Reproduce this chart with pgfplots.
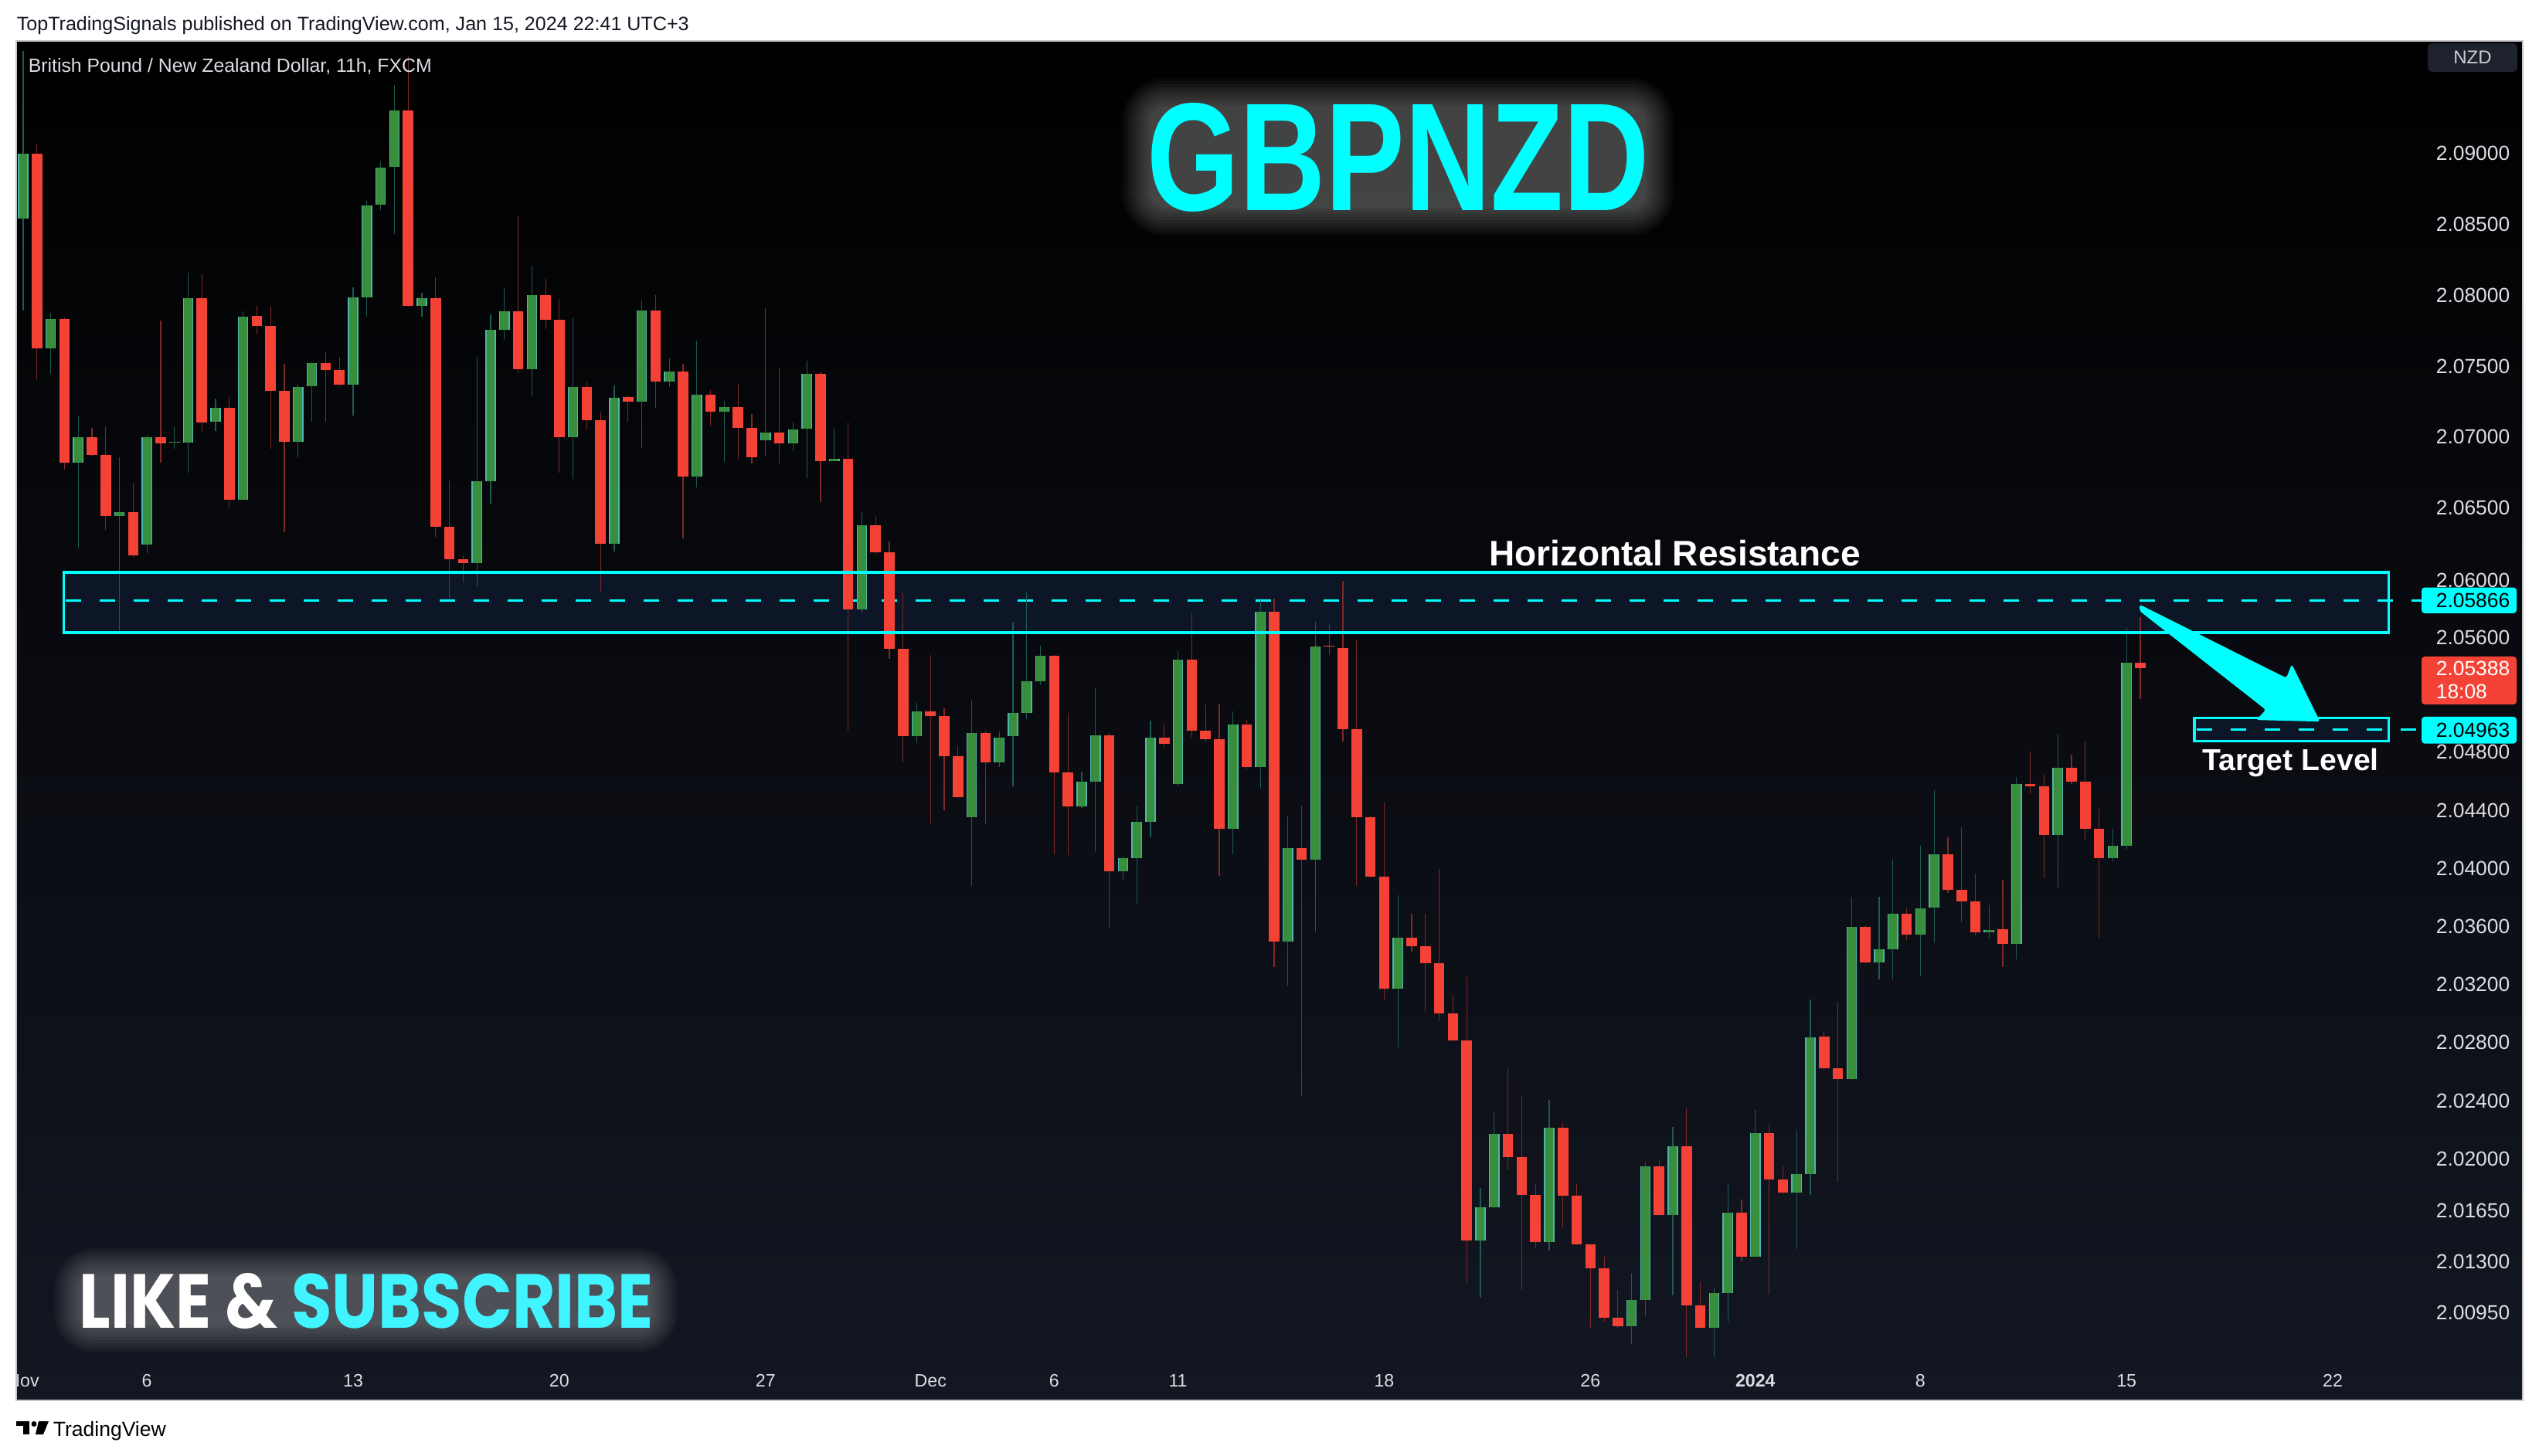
\documentclass[border=0pt]{standalone}
\usepackage{fontspec}
\setmainfont{Liberation Sans}
\newfontfamily\pop{Poppins}
\usepackage{graphicx}
\usepackage{pgfplots}
\usepackage{pgfplotstable}
\pgfplotsset{compat=1.18}

\definecolor{cy}{RGB}{0,255,255}
\definecolor{subcy}{RGB}{64,245,255}
\definecolor{bgbot}{RGB}{19,23,34}
\definecolor{boxfill}{RGB}{13,22,38}
\definecolor{gbody}{RGB}{56,142,60}
\definecolor{gborder}{RGB}{77,182,172}
\definecolor{rbody}{RGB}{244,67,54}
\definecolor{gwick}{RGB}{30,90,84}
\definecolor{rwick}{RGB}{128,40,40}
\definecolor{ticktext}{RGB}{220,222,228}
\definecolor{hdr}{RGB}{19,23,34}
\definecolor{btn}{RGB}{30,34,45}

% rising candles: index, open, high, low, close
\pgfplotstableread{
n o h l c
1 2.08540 2.09731 2.07887 2.08993
3 2.07624 2.07873 2.07446 2.07832
5 2.06818 2.07148 2.06228 2.06999
8 2.06455 2.06859 2.05642 2.06474
10 2.06250 2.07021 2.06190 2.07007
12 2.06961 2.07075 2.06913 2.06967
13 2.06964 2.08162 2.06750 2.07974
15 2.07108 2.07270 2.07043 2.07210
17 2.06561 2.07881 2.06556 2.07846
21 2.06967 2.07370 2.06859 2.07356
22 2.07359 2.07527 2.07108 2.07519
25 2.07370 2.08050 2.07153 2.07985
26 2.07987 2.08662 2.07851 2.08630
27 2.08633 2.08944 2.08602 2.08903
28 2.08906 2.09484 2.08433 2.09302
30 2.07927 2.08018 2.07851 2.07979
34 2.06120 2.07570 2.05961 2.06691
35 2.06694 2.07860 2.06539 2.07751
36 2.07754 2.08048 2.07689 2.07881
38 2.07481 2.08206 2.07289 2.07996
41 2.07007 2.07838 2.06710 2.07350
44 2.06255 2.07364 2.06201 2.07275
46 2.07248 2.07960 2.06924 2.07886
48 2.07388 2.07556 2.07349 2.07458
50 2.06726 2.07678 2.06648 2.07303
52 2.07182 2.07252 2.06827 2.07215
55 2.06981 2.07904 2.06869 2.07030
57 2.06957 2.07099 2.06908 2.07057
58 2.07060 2.07543 2.06717 2.07443
60 2.06833 2.07066 2.06830 2.06856
62 2.05797 2.06477 2.05770 2.06383
66 2.04910 2.05150 2.04864 2.05087
70 2.04352 2.05160 2.03881 2.04931
72 2.04732 2.04948 2.04699 2.04906
73 2.04910 2.05703 2.04569 2.05075
74 2.05078 2.05916 2.05033 2.05295
75 2.05298 2.05547 2.05267 2.05472
78 2.04426 2.04668 2.04420 2.04596
79 2.04596 2.05252 2.04111 2.04919
81 2.03981 2.04080 2.03919 2.04069
82 2.04072 2.04435 2.03752 2.04323
83 2.04323 2.05021 2.04216 2.04906
85 2.04581 2.05505 2.04567 2.05445
89 2.04271 2.05086 2.04100 2.04993
91 2.04699 2.05860 2.04551 2.05777
93 2.03491 2.04363 2.03194 2.04143
95 2.04061 2.05710 2.03553 2.05536
101 2.03174 2.03815 2.02764 2.03522
107 2.01440 2.01802 2.01051 2.01667
108 2.01667 2.02326 2.01662 2.02174
112 2.01433 2.02405 2.01375 2.02214
118 2.00856 2.01224 2.00740 2.01034
119 2.01034 2.01977 2.00924 2.01950
121 2.01619 2.02218 2.01068 2.02088
124 2.00852 2.01122 2.00650 2.01085
125 2.01085 2.01829 2.00883 2.01633
127 2.01334 2.02336 2.01330 2.02181
130 2.01767 2.02195 2.01382 2.01898
131 2.01898 2.03091 2.01753 2.02836
134 2.02551 2.03806 2.02545 2.03597
136 2.03351 2.03803 2.03232 2.03439
137 2.03439 2.04064 2.03232 2.03685
139 2.03545 2.04156 2.03253 2.03722
140 2.03726 2.04539 2.03487 2.04100
144 2.03560 2.03744 2.03512 2.03574
146 2.03480 2.04631 2.03370 2.04583
149 2.04235 2.04930 2.03866 2.04690
153 2.04068 2.04270 2.04046 2.04153
154 2.04153 2.05665 2.04130 2.05424
}\greendata

% falling candles: index, open, high, low, close
\pgfplotstableread{
n o h l c
2 2.08993 2.09070 2.07408 2.07624
4 2.07832 2.07840 2.06777 2.06818
6 2.06999 2.07067 2.06872 2.06880
7 2.06880 2.07078 2.06350 2.06453
9 2.06474 2.06683 2.06165 2.06174
11 2.07007 2.07819 2.06826 2.06959
14 2.07974 2.08146 2.07029 2.07102
16 2.07210 2.07289 2.06507 2.06561
18 2.07852 2.07922 2.07724 2.07784
19 2.07784 2.07916 2.06918 2.07324
20 2.07324 2.07516 2.06337 2.06967
23 2.07519 2.07602 2.07108 2.07475
24 2.07475 2.07570 2.07359 2.07367
29 2.09302 2.09687 2.07920 2.07927
31 2.07979 2.08124 2.06304 2.06377
32 2.06377 2.06696 2.05871 2.06150
33 2.06150 2.06174 2.05985 2.06120
37 2.07881 2.08556 2.07454 2.07481
39 2.07996 2.08108 2.07765 2.07824
40 2.07824 2.07971 2.06750 2.07007
42 2.07350 2.07386 2.07053 2.07121
43 2.07121 2.07183 2.05920 2.06255
45 2.07278 2.07297 2.07111 2.07248
47 2.07886 2.08003 2.07207 2.07388
49 2.07458 2.07516 2.06286 2.06726
51 2.07303 2.07333 2.07084 2.07180
53 2.07215 2.07378 2.06856 2.07063
54 2.07063 2.07164 2.06814 2.06860
56 2.07030 2.07494 2.06814 2.06957
59 2.07443 2.07455 2.06550 2.06833
61 2.06856 2.07105 2.04958 2.05797
63 2.06383 2.06456 2.06177 2.06192
64 2.06192 2.06271 2.05454 2.05520
65 2.05520 2.05916 2.04732 2.04910
67 2.05087 2.05482 2.04311 2.05054
68 2.05054 2.05105 2.04401 2.04774
69 2.04774 2.04845 2.04483 2.04491
71 2.04931 2.04955 2.04308 2.04732
76 2.05472 2.05480 2.04096 2.04666
77 2.04666 2.05078 2.04089 2.04426
80 2.04919 2.04940 2.03590 2.03978
84 2.04906 2.05003 2.04838 2.04858
86 2.05445 2.05772 2.04903 2.04951
87 2.04951 2.05133 2.04873 2.04897
88 2.04897 2.05133 2.03949 2.04273
90 2.04993 2.05027 2.04685 2.04699
92 2.05777 2.05875 2.03315 2.03491
94 2.04143 2.04434 2.02429 2.04061
96 2.05543 2.05693 2.05480 2.05536
97 2.05527 2.06000 2.04880 2.04966
98 2.04966 2.05585 2.03880 2.04352
99 2.04352 2.04368 2.03930 2.03940
100 2.03940 2.04452 2.03094 2.03174
102 2.03522 2.03685 2.03422 2.03460
103 2.03460 2.03685 2.03013 2.03346
104 2.03346 2.03995 2.02948 2.03000
105 2.03000 2.03132 2.02805 2.02812
106 2.02812 2.03253 2.01150 2.01440
109 2.02174 2.02620 2.01922 2.02012
110 2.02012 2.02436 2.01106 2.01757
111 2.01757 2.01829 2.01389 2.01433
113 2.02214 2.02245 2.01529 2.01746
114 2.01746 2.01829 2.01410 2.01416
115 2.01416 2.01420 2.00846 2.01256
116 2.01256 2.01338 2.00890 2.00914
117 2.00914 2.01109 2.00850 2.00856
120 2.01950 2.01998 2.01612 2.01619
122 2.02088 2.02343 2.00650 2.01003
123 2.01003 2.01153 2.00848 2.00852
126 2.01633 2.01722 2.01297 2.01334
128 2.02181 2.02235 2.01076 2.01857
129 2.01857 2.01957 2.01762 2.01767
132 2.02841 2.02877 2.02612 2.02618
133 2.02618 2.03078 2.01845 2.02551
135 2.03597 2.03605 2.03345 2.03351
138 2.03685 2.03722 2.03505 2.03545
141 2.04100 2.04211 2.03829 2.03851
142 2.03851 2.04281 2.03622 2.03774
143 2.03774 2.03969 2.03534 2.03560
145 2.03578 2.03922 2.03322 2.03480
147 2.04583 2.04808 2.04510 2.04565
148 2.04565 2.04646 2.03929 2.04235
150 2.04690 2.04789 2.04580 2.04601
151 2.04601 2.04882 2.04192 2.04269
152 2.04269 2.04412 2.03523 2.04068
155 2.05424 2.05748 2.05173 2.05388
}\reddata

\newcommand\gbptext{\resizebox{162.5pt}{34.75pt}{\bfseries GBPNZD}}
\newcommand\likesub[2]{\resizebox{185.75pt}{17.75pt}{\pop\bfseries\textcolor{#1}{LIKE \&} \textcolor{#2}{SUBSCRIBE}}}

\begin{document}
\begin{tikzpicture}
\useasboundingbox (0,0) rectangle (821.5pt,471pt);
\fill[white] (0,0) rectangle (821.5pt,471pt);
\begin{scope}[x=0.25pt,y=-0.25pt,shift={(0pt,471pt)}]
  \shade[top color=black, bottom color=bgbot] (21,53) rectangle (3265,1813);
  \fill[boxfill] (82.5,741) rectangle (3091.5,819);
  \fill[boxfill] (2840,929.4) rectangle (3091.5,959.7);
  \draw[cy, line width=0.75pt, dash pattern=on 5pt off 6pt] (85,777.6) -- (3134,777.6);
  \draw[cy, line width=0.75pt, dash pattern=on 5pt off 6pt] (2843,945) -- (3134,945);
  % soft glows behind the two banner texts
  \foreach \m in {-4,0,4,8,12,16,20,24,28,32}{
    \fill[white, opacity=0.033, rounded corners=6pt+\m*0.25pt] (1484-\m,133-\m) rectangle (2134+\m,273+\m);
    \fill[white, opacity=0.03, rounded corners=5pt+\m*0.25pt] (102-\m,1648-\m) rectangle (845+\m,1719+\m);
  }
\end{scope}

\begin{axis}[
  at={(5.25pt,17.75pt)}, anchor=south west,
  scale only axis, width=778.25pt, height=440pt,
  xmin=0.4942, xmax=175.46,
  ymode=log, ymin=2.003537, ymax=2.097967,
  axis line style={draw=none},
  major tick length=0pt, minor tick length=0pt,
  xtick={1,10,25,40,55,67,76,85,100,115,127,139,154,169},
  xticklabels={Nov,6,13,20,27,Dec,6,11,18,26,\textbf{2024},8,15,22},
  xticklabel style={font=\fontsize{5.8}{6}\selectfont, text=ticktext, anchor=base, yshift=4.25pt, inner sep=0pt},
  ytick={2.0095,2.013,2.0165,2.02,2.024,2.028,2.032,2.036,2.04,2.044,2.048,2.056,2.06,2.065,2.07,2.075,2.08,2.085,2.09},
  yticklabels={2.00950,2.01300,2.01650,2.02000,2.02400,2.02800,2.03200,2.03600,2.04000,2.04400,2.04800,2.05600,2.06000,2.06500,2.07000,2.07500,2.08000,2.08500,2.09000},
  yticklabel pos=right,
  yticklabel style={font=\fontsize{6.6}{7}\selectfont, text=ticktext, anchor=west, inner sep=0pt, xshift=4.5pt},
  minor ytick={},
  error bars/error mark=none,
]
% wicks
\addplot[draw=none, mark=none, error bars/.cd, y dir=plus, y explicit,
  error bar style={line width=0.3pt, draw=gwick}]
  table[x=n, y=l, y error plus expr=\thisrow{h}-\thisrow{l}] {\greendata};
\addplot[draw=none, mark=none, error bars/.cd, y dir=plus, y explicit,
  error bar style={line width=0.3pt, draw=rwick}]
  table[x=n, y=l, y error plus expr=\thisrow{h}-\thisrow{l}] {\reddata};
% bodies
\addplot[draw=none, mark=none, error bars/.cd, y dir=plus, y explicit,
  error bar style={line width=3.4pt, draw=gborder}]
  table[x=n, y=o, y error plus expr=\thisrow{c}-\thisrow{o}] {\greendata};
\addplot[draw=none, mark=none, error bars/.cd, y dir=plus, y explicit,
  error bar style={line width=2.7pt, draw=gbody}]
  table[x=n, y=o, y error plus expr=\thisrow{c}-\thisrow{o}] {\greendata};
\addplot[draw=none, mark=none, error bars/.cd, y dir=plus, y explicit,
  error bar style={line width=3.4pt, draw=rbody}]
  table[x=n, y=c, y error plus expr=\thisrow{o}-\thisrow{c}] {\reddata};
\end{axis}

\begin{scope}[x=0.25pt,y=-0.25pt,shift={(0pt,471pt)}]
  % boxes and arrow
  \draw[cy, line width=0.85pt] (82.5,741) rectangle (3091.5,819);
  \draw[cy, line width=0.85pt] (2840,929.4) rectangle (3091.5,959.7);
  \fill[cy, rounded corners=0.8pt] (2769,782.6) -- (2959,877.7) -- (2966,859.8) -- (3002.5,934.2) -- (2920,932.1) -- (2932.5,919) -- (2769,790.9) -- cycle;
  % margins
  \fill[white] (0,53) rectangle (20.6,1813);
  \draw[gray!45, line width=0.3pt] (21,53) rectangle (3265,1813);
  % price labels
  \fill[cy, rounded corners=1pt] (3134,760.6) rectangle (3257,793.9);
  \node[anchor=west, inner sep=0pt, text=black] at (3152,777.3) {\fontsize{6.6}{7}\selectfont 2.05866};
  \fill[rbody, rounded corners=1pt] (3134,850) rectangle (3257,912);
  \node[anchor=west, inner sep=0pt, text=white] at (3152,865) {\fontsize{6.6}{7}\selectfont 2.05388};
  \node[anchor=west, inner sep=0pt, text=white] at (3152,895) {\fontsize{6.6}{7}\selectfont 18:08};
  \fill[cy, rounded corners=1pt] (3134,928) rectangle (3257,962.6);
  \node[anchor=west, inner sep=0pt, text=black] at (3152,945.3) {\fontsize{6.6}{7}\selectfont 2.04963};
  % NZD button
  \fill[btn, rounded corners=1.5pt] (3142,56) rectangle (3258,93);
  \node[text=ticktext!80!gray] at (3200,74.5) {\fontsize{6}{7}\selectfont NZD};
  % legend
  \node[anchor=base west, inner sep=0pt, text=ticktext] at (36,93.3) {\resizebox{130.5pt}{!}{British Pound / New Zealand Dollar, 11h, FXCM}};
  % annotations
  \node[anchor=base west, inner sep=0pt, text=white] at (1926.4,732.7) {\fontsize{11.5}{12}\selectfont\bfseries Horizontal Resistance};
  \node[anchor=base west, inner sep=0pt, text=white] at (2850,997.5) {\fontsize{9.8}{10}\selectfont\bfseries Target Level};
  % title and banner
  \node[anchor=base west, inner sep=0pt, text=cy] at (1484,272.7) {\gbptext};
  \node[anchor=base west, inner sep=0pt] at (101.8,1719.3) {\likesub{white}{subcy}};
  % header
  \node[anchor=base west, inner sep=0pt, text=hdr] at (21,39.3) {\resizebox{217.5pt}{!}{TopTradingSignals published on TradingView.com, Jan 15, 2024 22:41 UTC+3}};
  % footer logo
  \fill[black] (21,1840) rectangle (38,1846);
  \fill[black] (30,1840) rectangle (38,1857);
  \fill[black] (44,1843.5) circle (3.5);
  \fill[black] (50,1840) -- (63,1840) -- (56,1857) -- (46,1857) -- cycle;
  \node[anchor=base west, inner sep=0pt, text=black] at (68,1859) {\resizebox{36.5pt}{!}{TradingView}};
\end{scope}
\end{tikzpicture}
\end{document}
